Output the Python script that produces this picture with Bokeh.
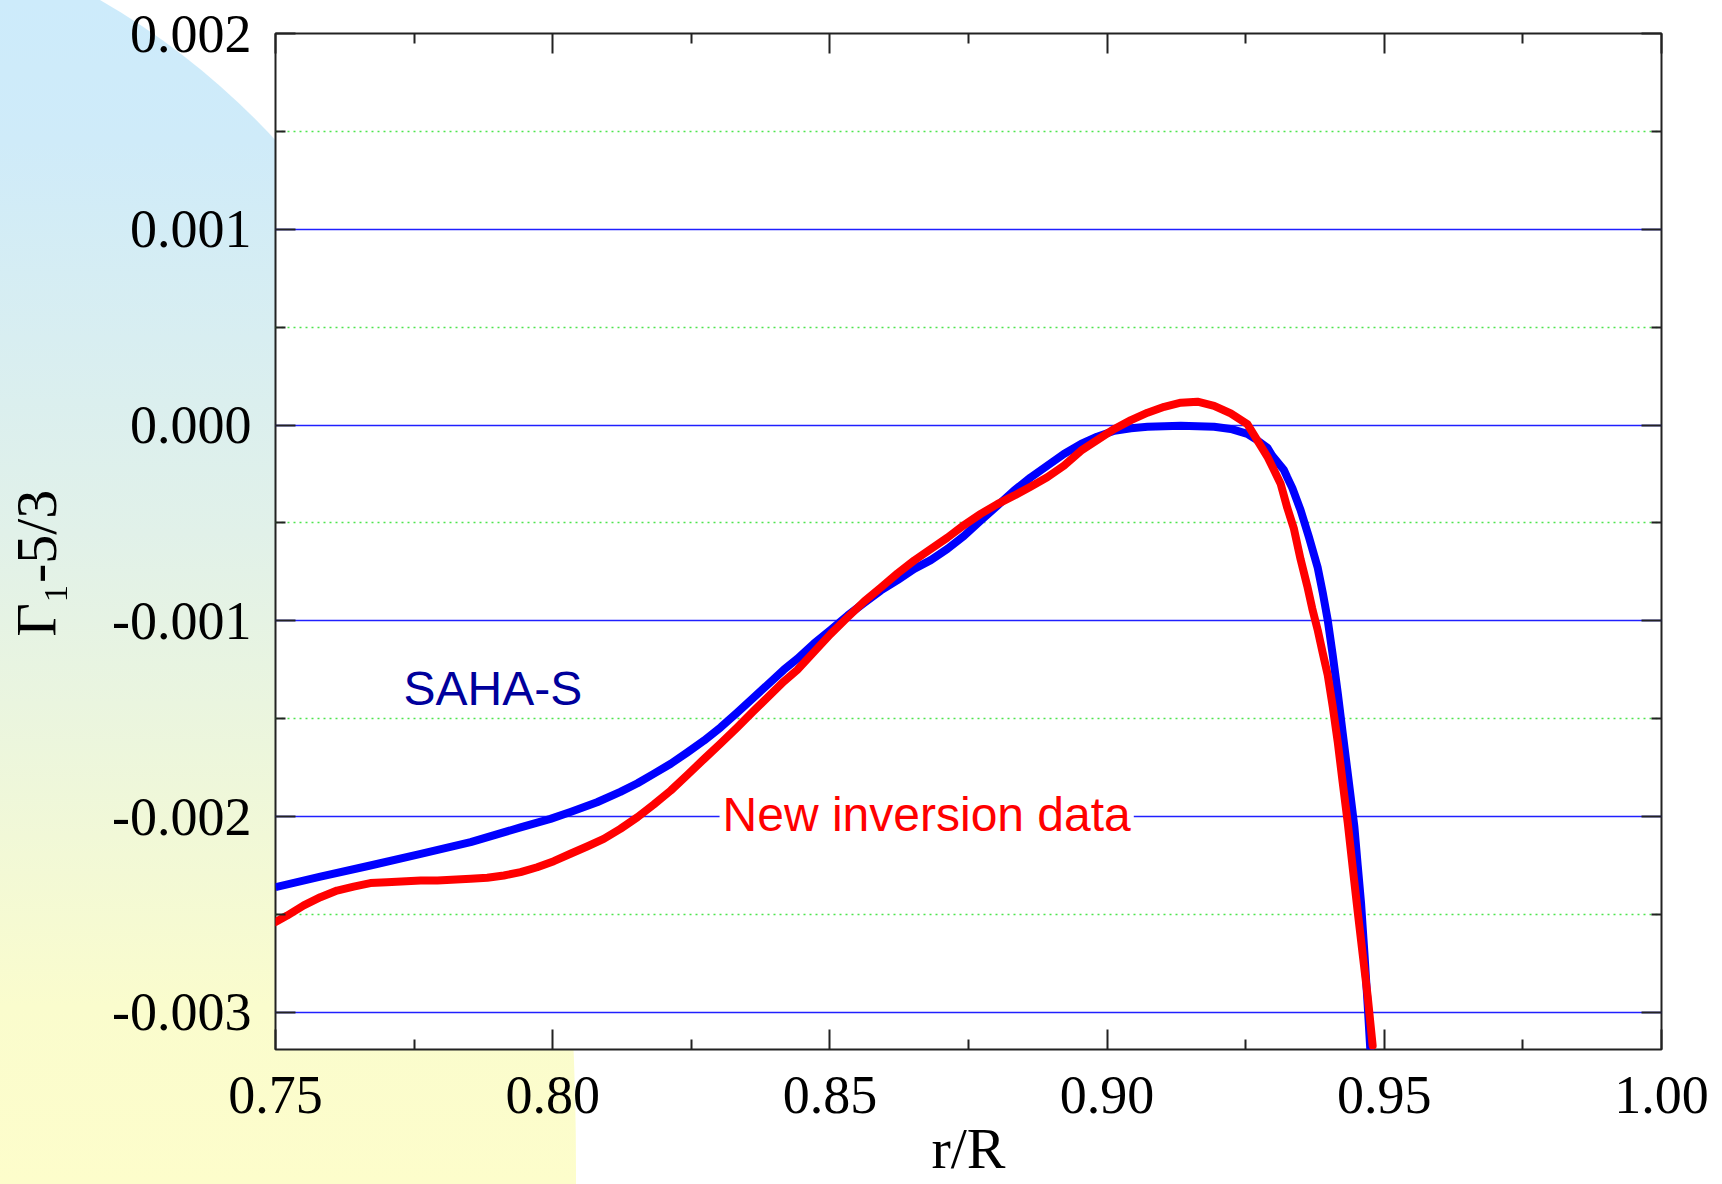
import base64
from bokeh.plotting import figure
from bokeh.models import (FixedTicker, LinearAxis, Label, CustomJSTickFormatter,
                          Range1d, PrintfTickFormatter)
from bokeh.embed import file_html
from bokeh.resources import INLINE

# ---------------- data ----------------
r_saha = [0.7500, 0.7581, 0.7671, 0.7762, 0.7852, 0.7942, 0.7996, 0.8032, 0.8080,
          0.8122, 0.8153, 0.8182, 0.8213, 0.8243, 0.8273, 0.8303, 0.8333, 0.8363,
          0.8417, 0.8441, 0.8471, 0.8501, 0.8532, 0.8562, 0.8592, 0.8622, 0.8652,
          0.8682, 0.8712, 0.8742, 0.8772, 0.8802, 0.8832, 0.8862, 0.8892, 0.8922,
          0.8953, 0.8982, 0.9013, 0.9043, 0.9073, 0.9133, 0.9193, 0.9223, 0.9253,
          0.9268, 0.9289, 0.9298, 0.9319, 0.9325, 0.9334, 0.9349, 0.9364, 0.9380,
          0.9389, 0.9398, 0.9407, 0.9416, 0.9425, 0.9434, 0.9446, 0.9452, 0.9458,
          0.9464, 0.9470, 0.9476]
g_saha = [-0.002361, -0.002307, -0.002250, -0.002191, -0.002131, -0.002055, -0.002012,
          -0.001977, -0.001927, -0.001874, -0.001830, -0.001782, -0.001730, -0.001672,
          -0.001612, -0.001544, -0.001468, -0.001391, -0.001250, -0.001195, -0.001117,
          -0.001047, -0.000973, -0.000908, -0.000845, -0.000792, -0.000735, -0.000690,
          -0.000633, -0.000566, -0.000488, -0.000412, -0.000335, -0.000268, -0.000208,
          -0.000148, -0.000097, -0.000060, -0.000029, -0.000017, -0.000009, -0.000004,
          -0.000009, -0.000020, -0.000045, -0.000072, -0.000116, -0.000157, -0.000230,
          -0.000268, -0.000321, -0.000435, -0.000572, -0.000730, -0.000857, -0.000997,
          -0.001176, -0.001368, -0.001575, -0.001778, -0.002051, -0.002248, -0.002439,
          -0.002692, -0.002963, -0.003250]

r_inv = [0.7500, 0.7521, 0.7551, 0.7581, 0.7611, 0.7641, 0.7671, 0.7701, 0.7762,
         0.7792, 0.7852, 0.7882, 0.7912, 0.7942, 0.7972, 0.8002, 0.8032, 0.8062,
         0.8092, 0.8122, 0.8153, 0.8182, 0.8213, 0.8243, 0.8273, 0.8303, 0.8333,
         0.8363, 0.8417, 0.8441, 0.8471, 0.8501, 0.8532, 0.8562, 0.8592, 0.8622,
         0.8652, 0.8682, 0.8712, 0.8742, 0.8772, 0.8802, 0.8832, 0.8862, 0.8892,
         0.8922, 0.8953, 0.8982, 0.9013, 0.9043, 0.9073, 0.9103, 0.9133, 0.9163,
         0.9193, 0.9223, 0.9253, 0.9289, 0.9301, 0.9313, 0.9325, 0.9337, 0.9349,
         0.9361, 0.9370, 0.9380, 0.9389, 0.9398, 0.9407, 0.9416, 0.9425, 0.9434,
         0.9443, 0.9452, 0.9461, 0.9470, 0.9479]
g_inv = [-0.002539, -0.002506, -0.002454, -0.002412, -0.002378, -0.002358, -0.002340,
         -0.002336, -0.002327, -0.002327, -0.002318, -0.002313, -0.002301, -0.002284,
         -0.002259, -0.002228, -0.002190, -0.002153, -0.002114, -0.002063, -0.002003,
         -0.001939, -0.001867, -0.001787, -0.001706, -0.001626, -0.001544, -0.001459,
         -0.001310, -0.001251, -0.001160, -0.001068, -0.000982, -0.000901, -0.000830,
         -0.000758, -0.000692, -0.000633, -0.000575, -0.000511, -0.000454, -0.000404,
         -0.000361, -0.000315, -0.000267, -0.000208, -0.000131, -0.000077, -0.000020,
         0.000025, 0.000063, 0.000093, 0.000114, 0.000119, 0.000098, 0.000059,
         0.000005, -0.000161, -0.000230, -0.000300, -0.000423, -0.000530, -0.000686,
         -0.000822, -0.000937, -0.001049, -0.001165, -0.001277, -0.001439, -0.001619,
         -0.001827, -0.002030, -0.002260, -0.002485, -0.002704, -0.002918, -0.003170]

x_ticks = [0.75, 0.80, 0.85, 0.90, 0.95, 1.00]
x_minor = [0.775, 0.825, 0.875, 0.925, 0.975]
y_ticks = [-0.003, -0.002, -0.001, 0.0, 0.001, 0.002]
y_minor = [-0.0025, -0.0015, -0.0005, 0.0005, 0.0015]

series_names = ["SAHA-S", "New inversion data"]
x_title = "r/R"
y_title = "\u0393\u2081-5/3"

# ---------------- decorative background (CSS) ----------------
svg_bg = (
    "<svg xmlns='http://www.w3.org/2000/svg' width='1722' height='1184' viewBox='0 0 1722 1184'>"
    "<defs><linearGradient id='g' x1='0' y1='0' x2='0' y2='1184' gradientUnits='userSpaceOnUse'>"
    "<stop offset='0' stop-color='#cdebfb'/>"
    "<stop offset='0.12' stop-color='#cfebf9'/>"
    "<stop offset='0.45' stop-color='#e1f1e9'/>"
    "<stop offset='0.85' stop-color='#fafccd'/>"
    "<stop offset='1' stop-color='#fdfdcb'/>"
    "</linearGradient></defs>"
    "<path d='M0,0 L100,0 C447,199 578,650 576,1184 L0,1184 Z' fill='url(#g)'/>"
    "</svg>"
)
bg_uri = "data:image/svg+xml;base64," + base64.b64encode(svg_bg.encode()).decode()

p = figure(width=1722, height=1184,
           x_range=Range1d(0.75, 1.0), y_range=Range1d(-0.00319, 0.002),
           output_backend="svg", toolbar_location=None,
           min_border_left=275, min_border_right=61,
           min_border_top=33, min_border_bottom=135,
           styles={"background-image": f"url('{bg_uri}')",
                   "background-size": "1722px 1184px",
                   "background-repeat": "no-repeat"})
p.border_fill_color = None
p.background_fill_color = "white"
p.outline_line_color = "#222222"
p.outline_line_width = 2

xt = FixedTicker(ticks=x_ticks, minor_ticks=x_minor)
yt = FixedTicker(ticks=y_ticks, minor_ticks=y_minor)


def style_axis(ax, standoff=10):
    ax.axis_line_color = None
    ax.major_tick_in = 20
    ax.major_tick_out = 0
    ax.minor_tick_in = 10
    ax.minor_tick_out = 0
    ax.major_tick_line_color = "#222222"
    ax.minor_tick_line_color = "#222222"
    ax.major_tick_line_width = 2
    ax.minor_tick_line_width = 2
    ax.major_label_text_font = "Liberation Serif"
    ax.major_label_text_font_size = "54px"
    ax.major_label_text_color = "black"
    ax.major_label_standoff = standoff
    ax.axis_label_text_font = "Liberation Serif"
    ax.axis_label_text_font_size = "58px"
    ax.axis_label_text_font_style = "normal"
    ax.axis_label_text_color = "black"


xa = p.xaxis[0]
xa.ticker = xt
xa.formatter = PrintfTickFormatter(format="%.2f")
style_axis(xa, 27)
xa.axis_label = x_title
xa.axis_label_standoff = 0

ya = p.yaxis[0]
ya.ticker = yt
ya.formatter = PrintfTickFormatter(format="%.3f")
style_axis(ya, 24)
# trailing no-break spaces nudge the centred vertical title slightly downwards
ya.axis_label = y_title + "\u00a0\u00a0\u00a0"
ya.axis_label_standoff = 40

blank = CustomJSTickFormatter(code="return ''")
top_ax = LinearAxis(ticker=xt, formatter=blank)
style_axis(top_ax, 0)
p.add_layout(top_ax, "above")
right_ax = LinearAxis(ticker=yt, formatter=blank)
style_axis(right_ax, 0)
p.add_layout(right_ax, "right")

p.xgrid.visible = False
p.ygrid.ticker = yt
p.ygrid.grid_line_color = "#2020ff"
p.ygrid.grid_line_width = 1.6
p.ygrid.minor_grid_line_color = "#4ee44e"
p.ygrid.minor_grid_line_width = 1.5
p.ygrid.minor_grid_line_dash = "2 4"

p.line(r_saha, g_saha, line_color="#0000ff", line_width=8, line_join="round")
p.line(r_inv, g_inv, line_color="#ff0000", line_width=8, line_join="round", line_cap="round")

p.add_layout(Label(x=0.7731, y=-0.001347, text=series_names[0],
                   text_font="Liberation Sans", text_font_size="48px",
                   text_color="#00009c", text_align="left", text_baseline="alphabetic"))
p.add_layout(Label(x=0.8301, y=-0.001990, text=series_names[1],
                   text_font="Liberation Sans", text_font_size="48px",
                   text_color="#ff0000", text_align="left", text_baseline="alphabetic",
                   background_fill_color="white", padding=3))

open("out.html", "w").write(file_html(p, INLINE))
